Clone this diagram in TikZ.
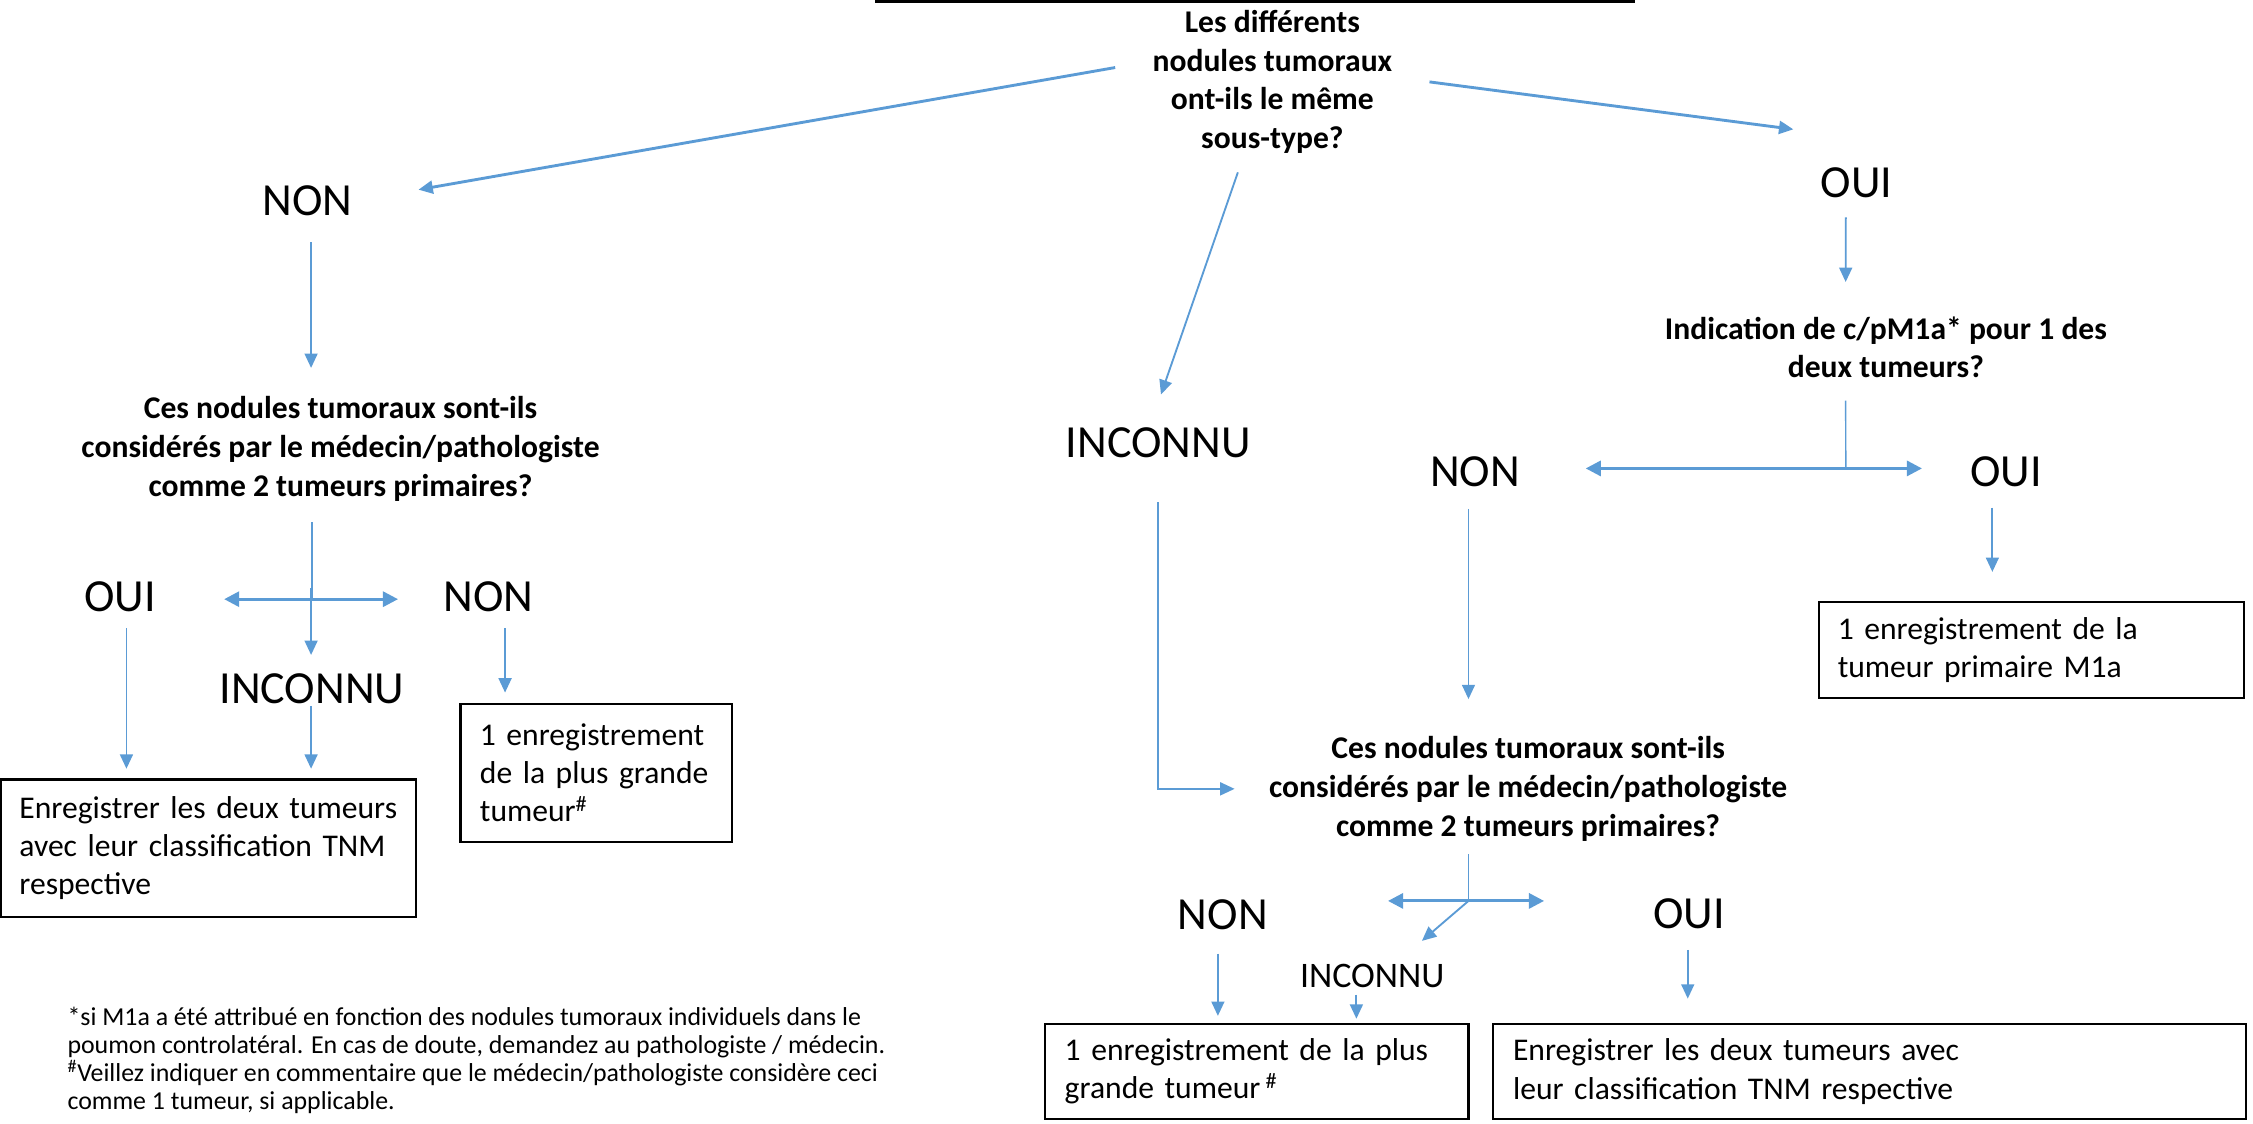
\documentclass[tikz,border=0pt]{standalone}
\usepackage{fontspec}
\setmainfont{Carlito}
\usetikzlibrary{arrows.meta}
\definecolor{lineblue}{HTML}{5B9BD5}

\tikzset{
    lbl/.style={inner sep=0pt, outer sep=0pt, font=\fontsize{32}{38}\selectfont},
    smalllbl/.style={lbl, font=\fontsize{25}{30}\selectfont},
    qst/.style={inner sep=0pt, outer sep=0pt, align=center, font=\fontsize{22}{27}\selectfont\bfseries},
    recbox/.style={draw, line width=1.5pt, anchor=north west, inner ysep=0pt, outer sep=0pt, align=left, font=\fontsize{22}{26.5}\selectfont},
    foot/.style={inner sep=0pt, outer sep=0pt, anchor=north west, align=left, font=\fontsize{18}{19.5}\selectfont},
    arr/.style={lineblue, line width=1.3pt, -{Triangle[length=10pt,width=9pt]}},
    bigarr/.style={arr, line width=2pt},
    dbl/.style={lineblue, line width=2pt, {Triangle[length=10.5pt,width=10.5pt]}-{Triangle[length=10.5pt,width=10.5pt]}},
    stem/.style={lineblue, line width=1pt}
}

\begin{document}
\begin{tikzpicture}[x=1pt, y=-1pt]
    \useasboundingbox (0,0) rectangle (1568,782);

    % edge of the box cut off at the top
    \draw[line width=2pt] (609,1) -- (1138,1);

    % first question and its three answers
    \node[qst] (q1) at (885.5,57) {Les différents\\nodules tumoraux\\ont-ils le même\\sous-type?};
    \node[lbl] (non1) at (214,140) {NON};
    \node[lbl] (oui1) at (1292,127) {OUI};
    \node[lbl] (inc1) at (806,308) {INCONNU};

    \draw[bigarr] ([xshift=-26pt,yshift=10pt]q1.west) -- ([xshift=46pt,yshift=8pt]non1.east);
    \draw[bigarr] ([xshift=26pt]q1.east) -- ([xshift=-19pt,yshift=37pt]oui1.west);
    \draw[arr] ([xshift=-24pt,yshift=-13pt]q1.south) -- ([xshift=2pt,yshift=23pt]inc1.north);

    % left branch
    \node[qst] (q2) at (237,312.5) {Ces nodules tumoraux sont-ils\\considérés par le médecin/pathologiste\\comme 2 tumeurs primaires?};
    \node[lbl] (oui2) at (83.5,415) {OUI};
    \node[lbl] (non2) at (340,415) {NON};
    \node[lbl] (inc2) at (217,479) {INCONNU};
    \node[recbox, inner xsep=13pt, text width=263pt, minimum height=95.5pt] (boxL) at (0.5,542.5)
        {Enregistrer les deux tumeurs\\avec leur classification TNM\\respective};
    \node[recbox, inner xsep=13.5pt, text width=162pt, minimum height=96pt] (boxS) at (320.5,490)
        {1 enregistrement\\de la plus grande\\tumeur\textsuperscript{\#}};

    \draw[arr] ([xshift=2.5pt,yshift=-18pt]non1.south) -- ([xshift=-20.5pt,yshift=20pt]q2.north);
    \coordinate (j2) at (217,417);
    \draw[stem] ([xshift=-20pt,yshift=-14.5pt]q2.south) -- (j2);
    \draw[dbl] ([xshift=-61pt]j2) -- ([xshift=60pt]j2);
    \draw[arr] ([xshift=-0.5pt,yshift=8pt]j2) -- ([xshift=-0.5pt,yshift=12.7pt]inc2.north);
    \draw[arr] ([xshift=4.5pt,yshift=-11.7pt]oui2.south) -- ([xshift=87.5pt,yshift=7.5pt]boxL.north west);
    \draw[arr] ([xshift=-0.5pt,yshift=-1.7pt]inc2.south) -- ([xshift=216pt,yshift=7.5pt]boxL.north west);
    \draw[arr] ([xshift=11.5pt,yshift=-11.7pt]non2.south) -- ([xshift=31pt,yshift=8pt]boxS.north west);

    % right branch
    \node[qst] (q4) at (1312.5,241.7) {Indication de c/pM1a* pour 1 des\\deux tumeurs?};
    \node[lbl] (non4) at (1026.6,328) {NON};
    \node[lbl] (oui4) at (1396,328) {OUI};
    \node[recbox, inner xsep=13pt, text width=270pt, minimum height=67pt] (boxM) at (1266,419)
        {1 enregistrement de la\\tumeur primaire M1a};

    \draw[arr] ([xshift=-7.4pt,yshift=-13.7pt]oui1.south) -- ([xshift=-28pt,yshift=24pt]q4.north);
    \coordinate (j4) at (1284.6,326);
    \draw[stem] ([xshift=-28pt,yshift=-15.7pt]q4.south) -- (j4);
    \draw[dbl] ([xshift=-181pt]j4) -- ([xshift=53pt]j4);
    \draw[arr] ([xshift=-9.4pt,yshift=-14.7pt]oui4.south) -- ([xshift=120.6pt,yshift=21pt]boxM.north west);

    % lower question, reached from NON and from INCONNU
    \node[qst] (q3) at (1063.5,549) {Ces nodules tumoraux sont-ils\\considérés par le médecin/pathologiste\\comme 2 tumeurs primaires?};
    \node[lbl] (non3) at (851,636.5) {NON};
    \node[smalllbl] (inc3) at (955,679) {INCONNU};
    \node[lbl] (oui3) at (1175.6,635.6) {OUI};
    \node[recbox, inner xsep=14pt, text width=267pt, minimum height=66.5pt] (boxB1) at (727,712.5)
        {1 enregistrement de la plus\\grande tumeur\,\textsuperscript{\#}};
    \node[recbox, inner xsep=14pt, text width=496pt, minimum height=66.5pt] (boxB2) at (1039,712.5)
        {Enregistrer les deux tumeurs avec\\leur classification TNM respective};

    \draw[arr] ([xshift=-4.6pt,yshift=-15.7pt]non4.south) -- ([xshift=-41.5pt,yshift=26pt]q3.north);
    \draw[arr] ([yshift=-31pt]inc1.south) |- ([xshift=-24pt]q3.west);
    \coordinate (j3) at (1022,627);
    \draw[stem] ([xshift=-41.5pt,yshift=-9pt]q3.south) -- (j3);
    \draw[dbl] ([xshift=-56pt]j3) -- ([xshift=52.6pt]j3);
    \draw[arr] (j3) -- ([xshift=34.6pt,yshift=16pt]inc3.north);
    \draw[arr] ([xshift=-3.4pt,yshift=-16.75pt]non3.south) -- ([xshift=120.6pt,yshift=5.5pt]boxB1.north west);
    \draw[arr] ([xshift=-11pt,yshift=-5pt]inc3.south) -- ([xshift=217pt,yshift=3.5pt]boxB1.north west);
    \draw[arr] ([xshift=-1pt,yshift=-15pt]oui3.south) -- ([xshift=135.6pt,yshift=17.5pt]boxB2.north west);

    % footnotes
    \node[foot] (note) at (47,701) {*si M1a a été attribué en fonction des nodules tumoraux individuels dans le\\poumon controlatéral. En cas de doute, demandez au pathologiste / médecin.\\\textsuperscript{\#}Veillez indiquer en commentaire que le médecin/pathologiste considère ceci\\comme 1 tumeur, si applicable.};
\end{tikzpicture}
\end{document}
